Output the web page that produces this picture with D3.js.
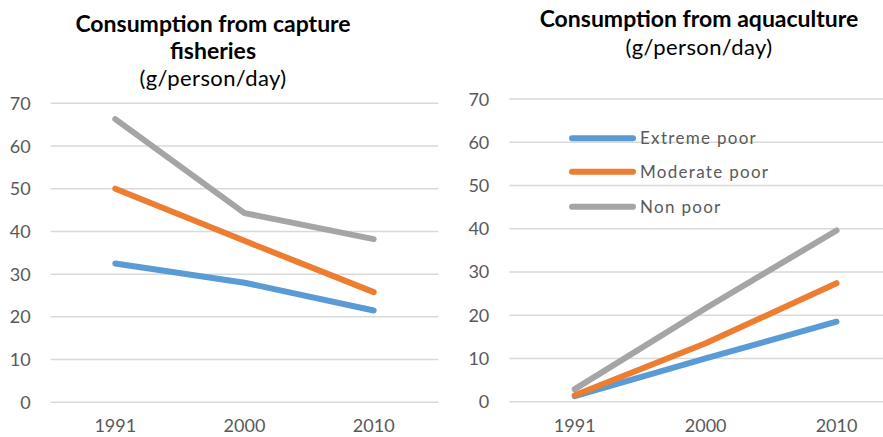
<!DOCTYPE html>
<html>
<head>
<meta charset="utf-8">
<script src="https://cdn.jsdelivr.net/npm/d3@7"></script>
<style>
  body { margin: 0; background: #fff; }
  svg text { font-family: Lato, "Open Sans", sans-serif; }
</style>
</head>
<body>
<svg id="chart" width="883" height="437"></svg>
<script>
// data
var years = ['1991', '2000', '2010'];
var seriesNames = ['Extreme poor', 'Moderate poor', 'Non poor'];
var colors = ['#5B9BD5', '#ED7D31', '#A5A5A5'];
var yTicks = [0, 10, 20, 30, 40, 50, 60, 70];

var captureExtreme = [32.5, 28.0, 21.5];
var captureModerate = [50.0, 37.8, 25.8];
var captureNon = [66.3, 44.3, 38.2];

var aquaExtreme = [1.3, 10.0, 18.5];
var aquaModerate = [1.5, 13.5, 27.4];
var aquaNon = [2.9, 21.6, 39.6];

var svg = d3.select('#chart');

function drawPanel(opts) {
    var g = svg.append('g');
    var x = d3.scaleBand().domain(years).range([opts.left, opts.right]);
    var y = d3.scaleLinear().domain([0, 70]).range([opts.bottom, opts.top]);

    // gridlines
    g.selectAll('.grid').data(yTicks).enter().append('line')
        .attr('x1', opts.left).attr('x2', opts.right)
        .attr('y1', d => y(d)).attr('y2', d => y(d))
        .attr('stroke', '#D9D9D9').attr('stroke-width', 1.5);

    // y labels
    g.selectAll('.ylab').data(yTicks).enter().append('text')
        .attr('x', opts.left - 20).attr('y', d => y(d) + 6.5)
        .attr('text-anchor', 'end')
        .attr('font-size', 18).attr('fill', '#595959')
        .text(d => d);

    // x labels
    g.selectAll('.xlab').data(years).enter().append('text')
        .attr('x', d => x(d) + x.bandwidth() / 2).attr('y', 432)
        .attr('text-anchor', 'middle')
        .attr('font-size', 18).attr('fill', '#595959')
        .text(d => d);

    var line = d3.line()
        .x((d, i) => x(years[i]) + x.bandwidth() / 2)
        .y(d => y(d));

    opts.series.forEach((s, i) => {
        g.append('path')
            .attr('d', line(s))
            .attr('fill', 'none')
            .attr('stroke', colors[i])
            .attr('stroke-width', 6)
            .attr('stroke-linecap', 'round')
            .attr('stroke-linejoin', 'round');
    });

    // title lines
    opts.title.forEach((ln, i) => {
        g.append('text')
            .attr('text-anchor', 'middle').attr('fill', '#000')
            .attr('x', opts.titleX).attr('y', opts.titleY[i])
            .attr('font-size', ln.bold ? 23 : 22)
            .attr('letter-spacing', ln.bold ? 0 : 0.4)
            .attr('font-weight', ln.bold ? 'bold' : 'normal')
            .text(ln.text);
    });
    return { g: g, x: x, y: y };
}

drawPanel({
    left: 50.7, right: 438.3, top: 103.3, bottom: 402.3,
    series: [captureExtreme, captureModerate, captureNon],
    titleX: 213, titleY: [32, 59, 86],
    title: [
        { text: 'Consumption from capture', bold: true },
        { text: 'fisheries', bold: true },
        { text: '(g/person/day)', bold: false }
    ]
});

var right = drawPanel({
    left: 509.3, right: 902, top: 99, bottom: 401.7,
    series: [aquaExtreme, aquaModerate, aquaNon],
    titleX: 699, titleY: [27, 55],
    title: [
        { text: 'Consumption from aquaculture', bold: true },
        { text: '(g/person/day)', bold: false }
    ]
});

// legend
var legend = right.g.append('g');
var legendRows = [138.3, 171.7, 206.7];
seriesNames.forEach((name, i) => {
    legend.append('line')
        .attr('x1', 572).attr('x2', 633)
        .attr('y1', legendRows[i]).attr('y2', legendRows[i])
        .attr('stroke', colors[i]).attr('stroke-width', 6)
        .attr('stroke-linecap', 'round');
    legend.append('text')
        .attr('x', 640).attr('y', legendRows[i] + 6)
        .attr('font-size', 17).attr('letter-spacing', 1.3)
        .attr('fill', '#595959')
        .text(name);
});
</script>
</body>
</html>
